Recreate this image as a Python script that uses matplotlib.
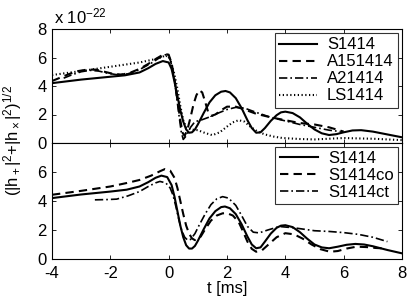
import matplotlib
matplotlib.use("Agg")
import matplotlib.pyplot as plt

plt.rcParams['font.family'] = ['Liberation Sans', 'DejaVu Sans']
plt.rcParams['mathtext.fontset'] = 'custom'
plt.rcParams['mathtext.rm'] = 'Liberation Sans'
plt.rcParams['mathtext.it'] = 'Liberation Sans'

# ---- top panel data ----
top_s_t = [-4, -3, -2, -1.5, -1, -0.7, -0.45, -0.2, 0, 0.1, 0.2, 0.3, 0.4, 0.5, 0.6, 0.7, 0.8, 0.9, 1.0, 1.2, 1.4, 1.6, 1.8, 1.95, 2.1, 2.3, 2.5, 2.7, 2.85, 3.0, 3.15, 3.3, 3.5, 3.7, 3.85, 4.0, 4.25, 4.5, 4.75, 5.0, 5.25, 5.5, 5.75, 6.0, 6.3, 6.6, 7.0, 7.5, 8.0]
top_s_v = [4.2, 4.45, 4.65, 4.75, 4.95, 5.25, 5.55, 5.75, 5.65, 5.2, 4.3, 3.3, 2.3, 1.5, 0.95, 0.72, 0.75, 0.95, 1.3, 2.1, 2.85, 3.35, 3.6, 3.65, 3.55, 3.15, 2.45, 1.6, 1.05, 0.72, 0.75, 1.05, 1.55, 1.95, 2.15, 2.2, 2.1, 1.8, 1.35, 0.95, 0.68, 0.56, 0.62, 0.75, 0.88, 0.9, 0.8, 0.6, 0.4]

top_a15_t = [-4, -3.7, -3.4, -3.1, -2.8, -2.5, -2.2, -1.9, -1.6, -1.3, -1.0, -0.7, -0.4, -0.15, 0.0, 0.1, 0.2, 0.3, 0.4, 0.48, 0.55, 0.65, 0.75, 0.85, 0.95, 1.05, 1.15, 1.25, 1.35, 1.45, 1.6, 1.8, 2.0, 2.3, 2.6, 3.0, 3.5, 4.0, 4.5, 5.0, 5.5, 6.0]
top_a15_v = [4.35, 4.6, 4.85, 5.05, 5.15, 5.15, 5.0, 4.85, 4.8, 4.95, 5.2, 5.55, 5.95, 6.25, 6.2, 5.6, 4.5, 3.0, 1.6, 0.7, 0.5, 1.0, 1.8, 2.7, 3.35, 3.7, 3.55, 2.9, 2.2, 1.9, 2.0, 2.3, 2.55, 2.55, 2.35, 2.05, 1.8, 1.6, 1.4, 1.3, 1.1, 0.8]

top_a2_t = [-3.6, -3.3, -3.0, -2.7, -2.4, -2.1, -1.8, -1.4, -1.0, -0.6, -0.3, -0.1, 0.05, 0.15, 0.25, 0.35, 0.43, 0.5, 0.6, 0.75, 0.9, 1.1, 1.3, 1.5, 1.7, 2.0, 2.3, 2.6, 3.0, 3.5, 4.0, 4.5, 5.0, 5.5, 5.9]
top_a2_v = [4.55, 4.8, 5.0, 5.1, 5.05, 4.9, 4.8, 4.85, 5.15, 5.6, 6.0, 6.2, 5.9, 5.0, 3.6, 2.0, 0.8, 0.25, 0.5, 1.1, 1.5, 1.6, 1.75, 1.9, 2.1, 2.35, 2.5, 2.45, 2.15, 1.8, 1.55, 1.3, 1.1, 0.9, 0.8]

top_ls_t = [-4, -3, -2, -1, -0.34, -0.1, 0.05, 0.2, 0.3, 0.4, 0.5, 0.6, 0.75, 1.0, 1.25, 1.5, 1.75, 2.0, 2.2, 2.4, 2.6, 2.8, 3.05, 3.3, 3.6, 3.9, 4.5, 5.0, 5.5, 6.0, 6.5, 7.0, 7.5, 8.0]
top_ls_v = [4.77, 5.05, 5.35, 5.65, 5.94, 6.15, 5.9, 4.8, 3.8, 2.6, 1.6, 1.1, 0.95, 0.9, 0.7, 0.55, 0.75, 1.15, 1.45, 1.6, 1.5, 1.15, 0.8, 0.6, 0.45, 0.35, 0.28, 0.25, 0.3, 0.35, 0.32, 0.3, 0.25, 0.2]

top_labels = ['S1414', 'A151414', 'A21414', 'LS1414']

# ---- bottom panel data ----
bot_s_t = [-4, -3, -2, -1.44, -1, -0.7, -0.45, -0.25, -0.05, 0.1, 0.2, 0.3, 0.4, 0.5, 0.6, 0.7, 0.8, 0.9, 1.0, 1.2, 1.4, 1.6, 1.8, 1.93, 2.1, 2.3, 2.5, 2.7, 2.85, 3.0, 3.15, 3.3, 3.5, 3.7, 3.85, 4.0, 4.25, 4.5, 4.75, 5.0, 5.25, 5.5, 5.8, 6.1, 6.4, 6.7, 7.0, 7.5, 8.0]
bot_s_v = [4.2, 4.45, 4.65, 4.78, 5.0, 5.3, 5.6, 5.75, 5.65, 5.1, 4.3, 3.3, 2.3, 1.5, 0.95, 0.72, 0.72, 0.9, 1.25, 2.05, 2.8, 3.3, 3.58, 3.62, 3.5, 3.1, 2.4, 1.55, 1.0, 0.74, 0.8, 1.2, 1.75, 2.15, 2.3, 2.33, 2.2, 1.85, 1.4, 1.0, 0.8, 0.74, 0.85, 0.98, 1.04, 1.0, 0.88, 0.62, 0.39]

bot_co_t = [-4, -3, -2, -1.44, -1, -0.6, -0.3, -0.13, 0.05, 0.2, 0.3, 0.4, 0.5, 0.6, 0.7, 0.8, 0.9, 1.0, 1.1, 1.25, 1.45, 1.65, 1.85, 2.0, 2.2, 2.4, 2.55, 2.7, 2.85, 3.0, 3.2, 3.45, 3.7, 4.0, 4.3, 4.6, 4.9, 5.2, 5.53, 5.8, 6.1, 6.44, 6.8, 7.1, 7.3]
bot_co_v = [4.43, 4.7, 5.0, 5.24, 5.45, 5.75, 6.05, 6.2, 6.1, 5.6, 4.9, 4.0, 3.1, 2.3, 1.75, 1.42, 1.3, 1.35, 1.55, 2.05, 2.65, 3.0, 3.15, 3.16, 3.0, 2.55, 1.9, 1.2, 0.7, 0.5, 0.6, 1.05, 1.5, 1.78, 1.7, 1.4, 1.0, 0.68, 0.5, 0.55, 0.72, 0.85, 0.82, 0.76, 0.74]

bot_ct_t = [-2.53, -2.1, -1.78, -1.4, -1.0, -0.7, -0.45, -0.3, -0.1, 0.05, 0.15, 0.25, 0.35, 0.45, 0.55, 0.65, 0.75, 0.9, 1.05, 1.25, 1.45, 1.65, 1.85, 2.05, 2.3, 2.5, 2.7, 2.9, 3.1, 3.4, 3.8, 4.3, 5.0, 5.5, 6.0, 6.5, 7.0, 7.5]
bot_ct_v = [4.08, 4.1, 4.13, 4.35, 4.65, 5.0, 5.25, 5.35, 5.25, 4.9, 4.4, 3.6, 2.7, 1.95, 1.5, 1.3, 1.35, 1.75, 2.35, 3.1, 3.75, 4.15, 4.3, 4.2, 3.7, 3.0, 2.25, 1.85, 1.8, 2.0, 2.24, 2.15, 1.95, 1.9, 1.82, 1.7, 1.5, 1.2]

bot_labels = ['S1414', 'S1414co', 'S1414ct']

xticks = [-4, -2, 0, 2, 4, 6, 8]

fig = plt.figure(figsize=(4.09, 3.00), dpi=100)
ax1 = fig.add_axes([52/409, 1-143/300, 350/409, 114/300])
ax2 = fig.add_axes([52/409, 1-259/300, 350/409, 116/300])

lw = 1.5
ax1.plot(top_s_t, top_s_v, color='k', lw=lw, ls='-', label=top_labels[0])
ax1.plot(top_a15_t, top_a15_v, color='k', lw=lw, ls=(0, (4, 2.5)), label=top_labels[1])
ax1.plot(top_a2_t, top_a2_v, color='k', lw=lw * 0.8, ls=(0, (5, 1.8, 1, 1.8)), label=top_labels[2])
ax1.plot(top_ls_t, top_ls_v, color='k', lw=lw, ls=(0, (0.6, 1.2)), label=top_labels[3])

ax2.plot(bot_s_t, bot_s_v, color='k', lw=lw, ls='-', label=bot_labels[0])
ax2.plot(bot_co_t, bot_co_v, color='k', lw=lw, ls=(0, (4, 2.5)), label=bot_labels[1])
ax2.plot(bot_ct_t, bot_ct_v, color='k', lw=lw * 0.8, ls=(0, (5, 1.8, 1, 1.8)), label=bot_labels[2])

for ax in (ax1, ax2):
    ax.set_xlim(-4, 8)
    ax.set_ylim(0, 8)
    ax.set_xticks(xticks)
    ax.tick_params(direction='in', top=True, right=True, labelsize=12, length=3, width=0.6)
    ax.tick_params(axis='y', pad=4)
    ax.tick_params(axis='x', pad=5)
    for sp in ax.spines.values():
        sp.set_linewidth(0.8)

ax1.set_yticks([0, 2, 4, 6, 8])
ax1.tick_params(labelbottom=False)
ax2.set_yticks([0, 2, 4, 6, 8])
ax2.set_yticklabels(['0', '2', '4', '6', ''])
ax2.set_xticklabels([str(v) for v in xticks])

leg_kw = dict(loc='upper right', fontsize=12, handlelength=2.3, frameon=True, fancybox=False,
              edgecolor='k', borderaxespad=0.25, labelspacing=0.12, borderpad=0.25, handletextpad=0.6)
leg1 = ax1.legend(**leg_kw)
leg1.get_frame().set_linewidth(0.8)
leg2 = ax2.legend(**leg_kw)
leg2.get_frame().set_linewidth(0.8)

fig.text(54/409, 1-16/300, r'x 10$^{-22}$', fontsize=12, ha='left', va='center')
fig.text(13/409, 1-140/300, r'(|h$_+$|$^2$+|h$_\times$|$^2$)$^{1/2}$', fontsize=12,
         rotation=90, ha='center', va='center')
ax2.set_xlabel('t [ms]', fontsize=12, labelpad=0)

fig.savefig('out.png', dpi=100)
